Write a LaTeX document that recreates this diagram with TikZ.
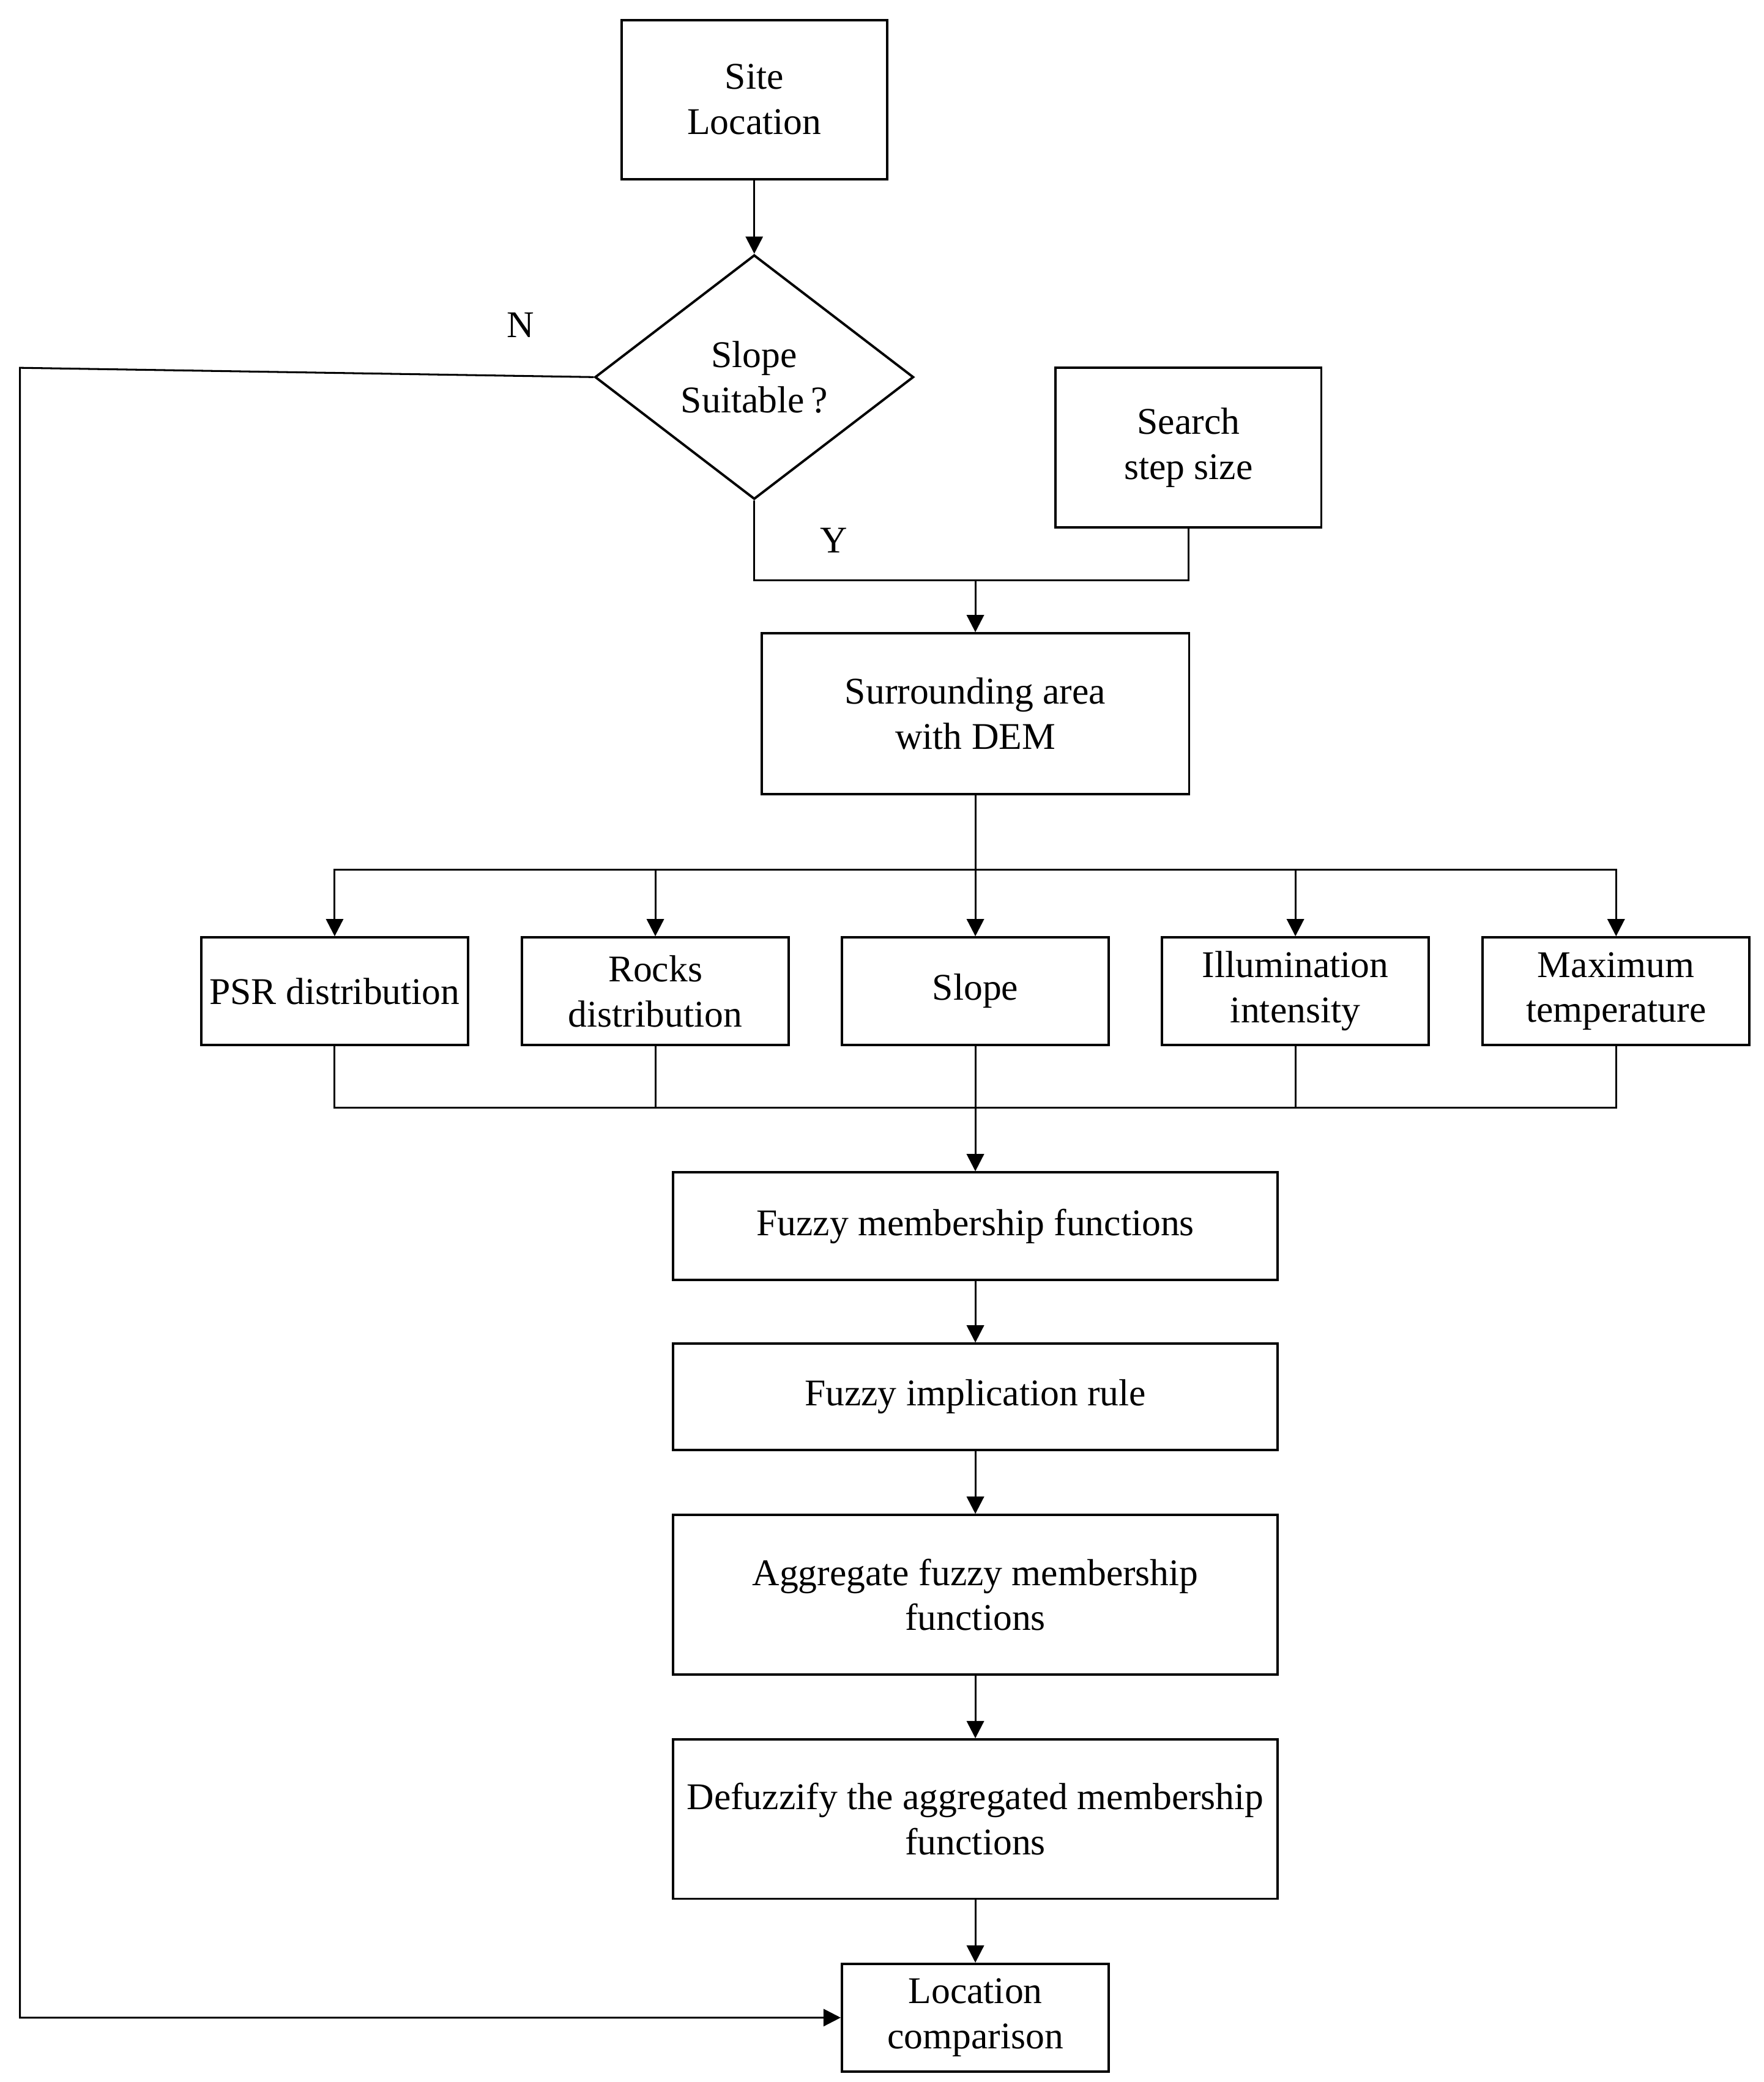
\documentclass[tikz,border=0pt]{standalone}
\usepackage{fontspec}
\setmainfont{Liberation Serif}
\usetikzlibrary{shapes.geometric,arrows.meta}

\begin{document}
\begin{tikzpicture}[x=0.5pt, y=-0.5pt,
    font=\fontsize{14.2}{17}\selectfont,
    box/.style={draw, line width=0.9pt, align=center, inner sep=0pt},
    decide/.style={draw, diamond, aspect=1.3, line width=0.9pt, align=center, inner sep=0pt,
      minimum width=120pt, minimum height=92pt},
    link/.style={line width=0.7pt},
    arr/.style={line width=0.7pt, -{Triangle[length=6.5pt, width=6.5pt]}}]
      \useasboundingbox (0, 0) rectangle (1328, 1568);

      \node[box, minimum width=100pt, minimum height=60pt] (site) at (568, 75) {Site\\Location};
      \node[decide] (dec) at (568, 284) {Slope\\Suitable\,?};
      \node[box, minimum width=100pt, minimum height=60pt] (search) at (895, 337) {Search\\step size};
      \node[box, minimum width=161pt, minimum height=60.5pt] (surr) at (734.5, 537.5) {Surrounding area\\with DEM};

      \foreach [count=\i] \x/\t in {252/PSR distribution, 493.5/Rocks\\distribution, 734.5/Slope,
          975.5/Illumination\\intensity, 1217/Maximum\\temperature} {
        \node[box, minimum width=100.5pt, minimum height=40.5pt] (b\i) at (\x, 746.5) {\t};
      }

      \node[box, minimum width=227.5pt, minimum height=40.5pt] (fmf) at (734.5, 923.5) {Fuzzy membership functions};
      \node[box, minimum width=227.5pt, minimum height=40pt] (fir) at (734.5, 1052) {Fuzzy implication rule};
      \node[box, minimum width=227.5pt, minimum height=60pt] (agg) at (734.5, 1201) {Aggregate fuzzy membership\\functions};
      \node[box, minimum width=227.5pt, minimum height=60pt] (def) at (734.5, 1370) {Defuzzify the aggregated membership\\functions};
      \node[box, minimum width=100.5pt, minimum height=40.5pt] (loc) at (734.5, 1519.5) {Location\\comparison};

      \node (no) at (392, 245) {N};
      \node (yes) at (628, 407) {Y};

      \coordinate (nc) at (15, 277);
      \coordinate (jn) at (734.5, 437);
      \coordinate (bus1) at (734.5, 655);
      \coordinate (bus2) at (734.5, 834);

      \draw[arr] (site) -- (dec);
      \draw[link] (dec.south) |- (jn) -| (search.south);
      \draw[arr] (jn) -- (surr);
      \draw[link] (surr) -- (bus1);
      \foreach \i in {1,...,5} {
        \draw[arr] (bus1) -| (b\i.north);
        \draw[link] (b\i.south) |- (bus2);
      }
      \draw[arr] (bus2) -- (fmf);
      \draw[arr] (fmf) -- (fir);
      \draw[arr] (fir) -- (agg);
      \draw[arr] (agg) -- (def);
      \draw[arr] (def) -- (loc);
      \draw[arr] (dec.west) -- (nc) |- (loc.west);
    \end{tikzpicture}
\end{document}
